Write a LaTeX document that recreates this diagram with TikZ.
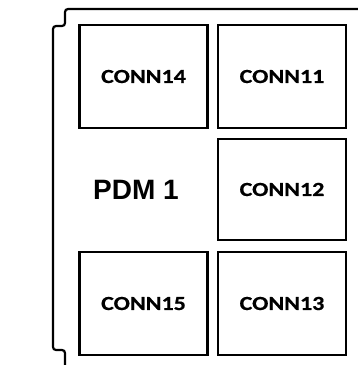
\documentclass[tikz,border=0pt]{standalone}
\usepackage{fontspec}
\newfontfamily\connfont[FakeStretch=1.2, FakeBold=0.6]{Carlito}
\newfontfamily\pdmfont{Liberation Sans}
\tikzset{
	conn/.style={draw, line width=2.2pt, inner sep=0pt, minimum width=128pt,
		minimum height=103pt, font=\connfont\bfseries\fontsize{20}{20}\selectfont},
	outline/.style={line width=2.2pt, rounded corners=3pt}
}
\begin{document}
\begin{tikzpicture}[x=1pt, y=-1pt]
		\useasboundingbox (0, 0) rectangle (357, 365);
		% housing outline
		\draw[outline] (360, 9) -- (65, 9) -- (65, 26) -- (53, 26) -- (53, 350) -- (65, 350) -- (65, 368);
		% connectors
		\node[conn] (conn14) at (143.5, 76.5) {CONN14};
		\node[conn] (conn11) at (282, 76.5) {CONN11};
		\node[conn, minimum height=101pt] (conn12) at (282, 189.5) {CONN12};
		\node[conn] (conn15) at (143.5, 303.5) {CONN15};
		\node[conn] (conn13) at (282, 303.5) {CONN13};
		\node[font=\pdmfont\bfseries\fontsize{28}{28}\selectfont] (pdm) at (136, 189.5) {PDM 1};
	\end{tikzpicture}
\end{document}
